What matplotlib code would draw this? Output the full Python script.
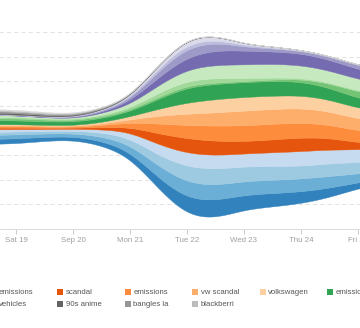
import numpy as np
import matplotlib
matplotlib.use("Agg")
import matplotlib.pyplot as plt
from matplotlib.patches import Rectangle

# ---------------- data ----------------
# sample times in days from Sat Sep 19 (half-day steps, Sep 18 .. Sep 26)
t = [-1, -0.5, 0, 0.5, 1, 1.5, 2, 2.5, 3, 3.5, 4, 4.5, 5, 5.5, 6, 6.5, 7]
tick_days = [0, 1, 2, 3, 4, 5, 6]
tick_labels = ["Sat 19", "Sep 20", "Mon 21", "Tue 22", "Wed 23", "Thu 24", "Fri 25"]

layer_colors = ["#3182bd", "#6baed6", "#9ecae1", "#c6dbef",
                "#e6550d", "#fd8d3c", "#fdae6b", "#fdd0a2",
                "#31a354", "#74c476", "#a1d99b", "#c7e9c0",
                "#756bb1", "#9e9ac8", "#bcbddc", "#dadaeb",
                "#636363", "#969696", "#bdbdbd", "#d9d9d9"]

blue0 = [5, 5, 5, 4, 3.5, 4.5, 6, 11, 17, 18, 15, 13.5, 12, 9.5, 6, 4.5, 4]
blue1 = [4, 4, 4, 3.5, 3, 4.5, 7, 12, 16, 15.5, 14, 13.5, 13, 12, 9, 8, 7]
blue2 = [3, 3, 3, 2.5, 2.5, 4, 6.5, 11, 16, 16.5, 15, 14, 13, 13, 11.5, 10.5, 10]
blue3 = [3, 3, 2.5, 2, 2, 3, 6, 11, 14, 14, 13, 14, 15, 14, 13, 12, 11]
orng0 = [1.5, 1.5, 1.5, 1.2, 1, 2, 5, 11, 15, 14.5, 12.5, 13, 14, 12, 7, 5, 4]
orng1 = [1.5, 1.5, 1.5, 1.2, 1, 2, 4.5, 10, 13.5, 15.5, 16, 16, 15, 13.5, 12, 11, 10]
orng2 = [1, 1, 1, 1, 0.8, 1.5, 3, 8, 11.5, 13.5, 15, 15, 15, 13.5, 12, 11, 10]
orng3 = [1, 1, 1, 0.8, 0.7, 1.5, 3, 7, 11.5, 13.5, 14, 13.5, 13, 12, 11, 10, 9]
gren0 = [4, 4, 4, 3.5, 3.5, 4, 5, 10, 15.5, 15.5, 15, 15, 14, 12, 10, 9, 8]
gren1 = [2, 2, 2, 1.8, 1.5, 1.5, 1.5, 2, 2, 1.5, 1, 1.5, 2.5, 4.5, 6.5, 7, 7]
gren2 = [1.5, 1.5, 1.5, 1.2, 1, 1.5, 2, 4, 5, 4.5, 3, 2, 1.2, 1, 1, 1, 1]
gren3 = [2, 2, 1.5, 1.2, 1, 2, 3.5, 8, 11.5, 13.5, 14, 14, 13, 12, 12, 11, 10]
purp0 = [0.3, 0.3, 0.3, 0.4, 0.6, 1.2, 3, 8, 12.5, 15, 14, 12.5, 12, 11, 10, 9, 8]
purp1 = [0.2, 0.2, 0.2, 0.3, 0.4, 0.8, 2, 6, 9.5, 8, 4, 3, 2.5, 3, 4, 4, 4]
purp2 = [0.2, 0.2, 0.2, 0.2, 0.3, 0.5, 1, 3, 4, 3, 1.5, 1, 0.5, 0.4, 0.3, 0.3, 0.3]
purp3 = [0.2, 0.2, 0.2, 0.2, 0.3, 0.5, 1, 3, 5, 4, 1.5, 1, 0.5, 0.4, 0.3, 0.3, 0.3]
gray0 = [1.5, 1.5, 1.5, 1.2, 1, 0.8, 0.6, 0.4, 0.3, 0.2, 0.1, 0, 0, 0, 0, 0, 0]
gray1 = [1.5, 1.5, 1.5, 1.2, 1, 0.7, 0.5, 0.3, 0.2, 0.1, 0.1, 0, 0, 0, 0, 0, 0]
gray2 = [1, 1, 1, 1, 0.8, 0.5, 0.3, 0.2, 0.1, 0.1, 0.1, 0, 0, 0, 0, 0, 0]
gray3 = [1, 1, 1, 0.8, 0.7, 0.5, 0.3, 0.2, 0.1, 0.1, 0.1, 0, 0, 0, 0, 0, 0]

layers = [blue0, blue1, blue2, blue3, orng0, orng1, orng2, orng3,
          gren0, gren1, gren2, gren3, purp0, purp1, purp2, purp3,
          gray0, gray1, gray2, gray3]

legend_row1 = ["emissions", "scandal", "emissions", "vw scandal", "volkswagen", "emissions"]
legend_row1_colors = ["#c6dbef", "#e6550d", "#fd8d3c", "#fdae6b", "#fdd0a2", "#31a354"]
legend_row2 = ["vehicles", "90s anime", "bangles la", "blackberri"]
legend_row2_colors = ["#dadaeb", "#636363", "#969696", "#bdbdbd"]


# ---------------- helpers ----------------
def basis_curve(x, y, per_seg=60):
    """Uniform cubic B-spline (like d3.curveBasis) through control points."""
    x = np.asarray(x, float)
    y = np.asarray(y, float)
    xp = np.concatenate([[x[0]], x, [x[-1]]])
    yp = np.concatenate([[y[0]], y, [y[-1]]])
    ox, oy = [], []
    u = np.linspace(0, 1, per_seg, endpoint=False)
    b0 = (1 - u) ** 3 / 6
    b1 = (3 * u**3 - 6 * u**2 + 4) / 6
    b2 = (-3 * u**3 + 3 * u**2 + 3 * u + 1) / 6
    b3 = u**3 / 6
    for i in range(len(xp) - 3):
        ox.append(b0 * xp[i] + b1 * xp[i + 1] + b2 * xp[i + 2] + b3 * xp[i + 3])
        oy.append(b0 * yp[i] + b1 * yp[i + 1] + b2 * yp[i + 2] + b3 * yp[i + 3])
    return np.concatenate(ox), np.concatenate(oy)


# ---------------- figure ----------------
W, H = 360, 328
fig = plt.figure(figsize=(W / 100, H / 100), dpi=100)
fig.patch.set_facecolor("white")

ax_left_px, ax_right_px = -20, 380
ax_bottom_px, ax_top_px = 229, 7.6
ax = fig.add_axes([ax_left_px / W, (H - ax_bottom_px) / H,
                   (ax_right_px - ax_left_px) / W, (ax_bottom_px - ax_top_px) / H])

px_per_day = 57.0
x0_px = 16.0
ax.set_xlim((ax_left_px - x0_px) / px_per_day, (ax_right_px - x0_px) / px_per_day)
ax.set_ylim(0, 225)

arr = np.array(layers, float)
center = 103.7
base = center - arr.sum(axis=0) / 2.0
cum = base.copy()
for vals, col in zip(arr, layer_colors):
    xs, lo = basis_curve(t, cum)
    _, hi = basis_curve(t, cum + vals)
    ax.fill_between(xs, lo, hi, facecolor=col, edgecolor=col,
                    linewidth=0.3, zorder=3)
    cum = cum + vals

# grid
for gy in range(25, 225, 25):
    ax.axhline(gy, color="#e3e3e3", lw=0.75, ls=(0, (4, 3)), zorder=1)

for s in ["top", "left", "right"]:
    ax.spines[s].set_visible(False)
ax.spines["bottom"].set_color("#dddddd")
ax.spines["bottom"].set_linewidth(0.75)
ax.set_yticks([])
ax.set_xticks(tick_days)
ax.set_xticklabels(tick_labels, fontfamily="Liberation Sans")
ax.tick_params(axis="x", length=3.5, width=0.75, color="#cccccc",
               labelcolor="#a0a0a0", labelsize=5.7, pad=2.5)

# legend (manual grid)
col_x0 = -10.1
col_dx = 67.4
sw = 6.0
for row, (labels, cols) in enumerate([(legend_row1, legend_row1_colors),
                                      (legend_row2, legend_row2_colors)]):
    yc = 291.7 + row * 12.3
    for c, (lab, colr) in enumerate(zip(labels, cols)):
        xl = col_x0 + c * col_dx
        fig.patches.append(Rectangle((xl / W, (H - yc - sw / 2) / H), sw / W, sw / H,
                                     transform=fig.transFigure, facecolor=colr,
                                     edgecolor="none"))
        fig.text((xl + 8.7) / W, (H - yc) / H, lab, fontsize=5.6,
                 fontfamily="Liberation Sans", color="#555555",
                 ha="left", va="center_baseline")

fig.savefig("out.png", dpi=100, facecolor="white")
